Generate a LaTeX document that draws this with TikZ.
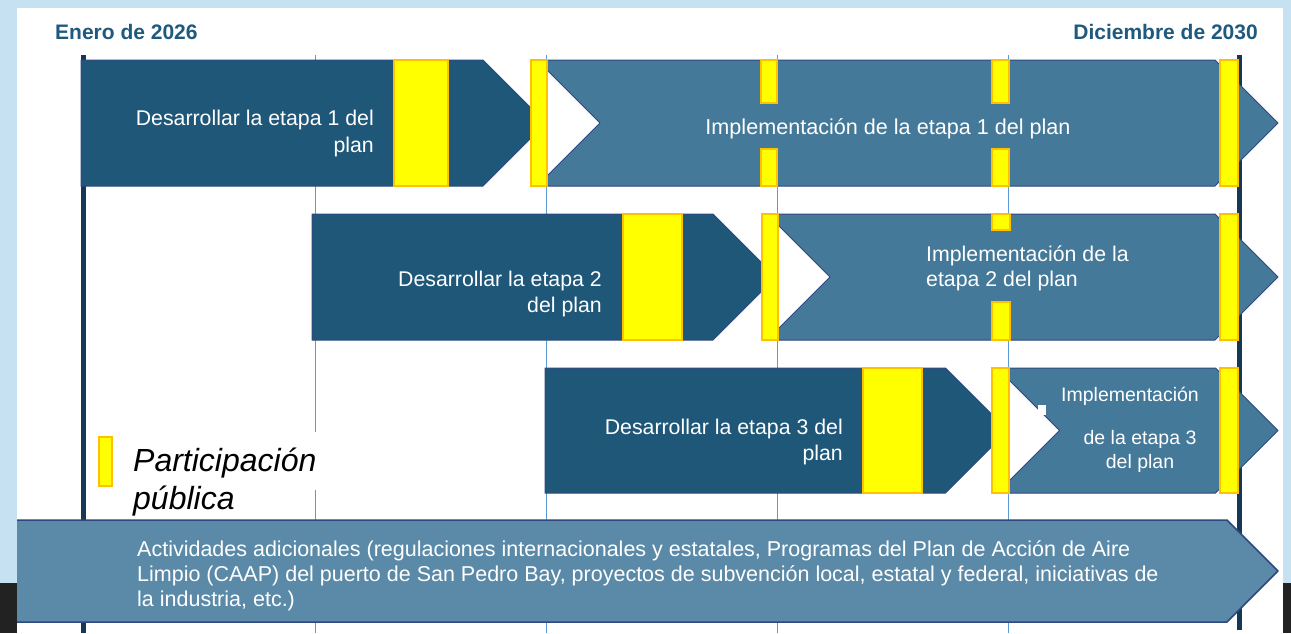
\documentclass[tikz,border=0pt]{standalone}
\usepackage{fontspec}
\setmainfont{Liberation Sans}
\definecolor{lightbg}{RGB}{197,225,242}
\definecolor{navy}{RGB}{31,87,121}
\definecolor{impl}{RGB}{69,121,153}
\definecolor{banner}{RGB}{90,138,168}
\definecolor{edgeblue}{RGB}{47,72,128}
\definecolor{axiscol}{RGB}{22,56,84}
\definecolor{gridcol}{RGB}{91,155,213}
\definecolor{yfill}{RGB}{255,255,0}
\definecolor{yedge}{RGB}{255,192,0}
\definecolor{titlecol}{RGB}{31,90,126}
\definecolor{darkcorner}{RGB}{34,34,34}
\tikzset{
  darkshape/.style={fill=navy, draw=edgeblue, line width=1pt, line join=round},
  implshape/.style={fill=impl, draw=edgeblue, line width=1pt, line join=round},
  bannershape/.style={fill=banner, draw=edgeblue, line width=1.5pt, line join=round},
  ybar/.style={fill=yfill, draw=yedge, line width=1.5pt},
  gridline/.style={draw=gridcol, line width=0.8pt},
  axisline/.style={draw=axiscol, line width=5pt},
  wtext/.style={text=white, font=\fontsize{21.3}{26.5}\selectfont, inner sep=0pt},
  titletext/.style={text=titlecol, font=\fontsize{21}{25}\selectfont\bfseries, inner sep=0pt},
}
\begin{document}
\begin{tikzpicture}[x=1pt,y=-1pt]
\useasboundingbox (0,0) rectangle (1291,633);
% background
\fill[lightbg] (0,0) rectangle (1291,633);
\fill[white] (17,8) rectangle (1283,633);
\fill[darkcorner] (0,583) rectangle (17,633);
\fill[darkcorner] (1283,583) rectangle (1291,633);
% titles
\node[titletext, anchor=west] (t1) at (55,32) {Enero de 2026};
\node[titletext, anchor=east] (t2) at (1258,32) {Diciembre de 2030};
% grid lines
\foreach \gx in {315,546,777,1008} {\draw[gridline] (\gx,55) -- (\gx,633);}
% axis lines
\draw[axisline] (83,55) -- (83,633);
\draw[axisline] (1239.5,55) -- (1239.5,630);
% legend background
\fill[white] (125,432) rectangle (320,490);
% row 1
\draw[darkshape] (81,60) -- (483,60) -- (546,123) -- (483,186) -- (81,186) -- cycle;
\draw[implshape] (537,60) -- (1215,60) -- (1278,123) -- (1215,186) -- (537,186) -- (600,123) -- cycle;
% row 2
\draw[darkshape] (312,214) -- (713,214) -- (776,277) -- (713,340) -- (312,340) -- cycle;
\draw[implshape] (767,214) -- (1215,214) -- (1278,277) -- (1215,340) -- (767,340) -- (830,277) -- cycle;
% row 3
\draw[darkshape] (545,368) -- (945.5,368) -- (1008,430.5) -- (945.5,493) -- (545,493) -- cycle;
\draw[implshape] (997,368) -- (1215.5,368) -- (1278,430.5) -- (1215.5,493) -- (997,493) -- (1059.5,430.5) -- cycle;
\fill[white] (1038,405) rectangle (1046,415);
% banner
\draw[bannershape] (17,520) -- (1227,520) -- (1278,571) -- (1227,622) -- (17,622);
% yellow bars row 1
\draw[ybar] (394,60) rectangle (448,186);
\draw[ybar] (531,60) rectangle (547,186);
\draw[ybar] (761,60) rectangle (777,103);
\draw[ybar] (761,149) rectangle (777,186);
\draw[ybar] (992,60) rectangle (1009,103);
\draw[ybar] (992,149) rectangle (1009,186);
\draw[ybar] (1220,60) rectangle (1238,186);
% yellow bars row 2
\draw[ybar] (623,214) rectangle (682,340);
\draw[ybar] (762,214) rectangle (778,340);
\draw[ybar] (992,214) rectangle (1010,230);
\draw[ybar] (992,302) rectangle (1010,340);
\draw[ybar] (1220,214) rectangle (1238,340);
% yellow bars row 3
\draw[ybar] (863,368) rectangle (922,493);
\draw[ybar] (992,368) rectangle (1009,493);
\draw[ybar] (1220,368) rectangle (1238,493);
% legend
\draw[ybar] (99,437) rectangle (112,486);
\node[anchor=north west, inner sep=0pt, align=left, font=\fontsize{32}{38}\selectfont\itshape] (leg) at (133,448) {Participación\\pública};
% texts
\node[wtext, anchor=east, align=right] (d1) at (374,133.5) {Desarrollar la etapa 1 del\\plan};
\node[wtext, font=\fontsize{21.6}{26}\selectfont] (i1) at (888,129) {Implementación de la etapa 1 del plan};
\node[wtext, anchor=east, align=right] (d2) at (602,294) {Desarrollar la etapa 2\\del plan};
\node[wtext, anchor=west, align=left, font=\fontsize{21.3}{25}\selectfont] (i2) at (926,268.5) {Implementación de la\\etapa 2 del plan};
\node[wtext, anchor=east, align=right] (d3) at (843,442) {Desarrollar la etapa 3 del\\plan};
\node[wtext, font=\fontsize{19.5}{24}\selectfont] (i3a) at (1130,396.5) {Implementación};
\node[wtext, align=center, font=\fontsize{19.5}{24}\selectfont] (i3b) at (1140,451.5) {de la etapa 3\\del plan};
\node[wtext, anchor=north west, align=left, font=\fontsize{21.5}{25}\selectfont] (ban) at (137,540.5) {Actividades adicionales (regulaciones internacionales y estatales, Programas del Plan de Acción de Aire\\Limpio (CAAP) del puerto de San Pedro Bay, proyectos de subvención local, estatal y federal, iniciativas de\\la industria, etc.)};
\end{tikzpicture}
\end{document}
